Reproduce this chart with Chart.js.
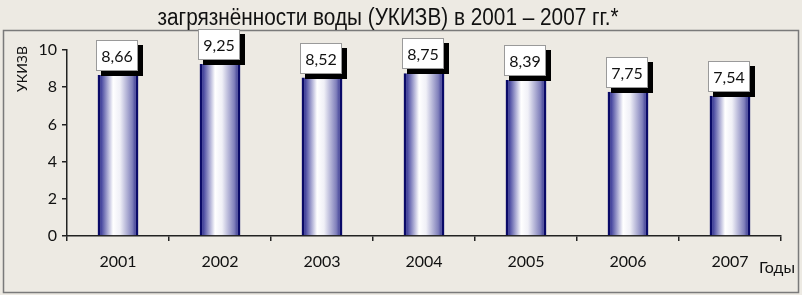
<!DOCTYPE html>
<html>
<head>
<meta charset="utf-8">
<script src="https://cdn.jsdelivr.net/npm/chart.js@4.4.1/dist/chart.umd.min.js"></script>
<style>
  html, body { margin: 0; padding: 0; background: #edeae3; }
  #wrap { width: 802px; height: 295px; position: relative; }
</style>
</head>
<body>
<div id="wrap"><canvas id="chart" width="802" height="295"></canvas></div>
<script>
// data
const years = ['2001', '2002', '2003', '2004', '2005', '2006', '2007'];
const ukizv = [8.66, 9.25, 8.52, 8.75, 8.39, 7.75, 7.54];
const yTicks = [0, 2, 4, 6, 8, 10];

const titleText = 'загрязнённости воды (УКИЗВ) в 2001 – 2007 гг.*';
const yTitle = 'УКИЗВ';
const xTitle = 'Годы';

const lato = 'Lato, "Open Sans", sans-serif';

function barGradient(c) {
  const chart = c.chart;
  const area = chart.chartArea;
  if (!area || c.dataIndex === undefined) return '#8080c0';
  const xs = chart.scales.x;
  const cx = xs.getPixelForValue(c.dataIndex);
  const w = xs.width / years.length * 0.4;
  const g = chart.ctx.createLinearGradient(cx - w / 2, 0, cx + w / 2, 0);
  g.addColorStop(0, '#0e0e74');
  g.addColorStop(0.1, '#4c4ca2');
  g.addColorStop(0.38, '#ffffff');
  g.addColorStop(0.55, '#f0f0f7');
  g.addColorStop(0.85, '#8080bb');
  g.addColorStop(1, '#16167e');
  return g;
}

// frame, title, axis captions and the boxed value labels
const decor = {
  id: 'decor',
  beforeDraw(chart) {
    const ctx = chart.ctx;
    ctx.save();
    ctx.fillStyle = '#edeae3';
    ctx.fillRect(0, 0, chart.width, chart.height);
    ctx.strokeStyle = '#7a7a7a';
    ctx.lineWidth = 1.5;
    ctx.strokeRect(3.5, 30.5, 795, 262);
    // condensed title: squeeze to the reference width
    ctx.fillStyle = '#111';
    ctx.font = '23px "Liberation Sans", Arial, sans-serif';
    ctx.textAlign = 'center';
    ctx.textBaseline = 'alphabetic';
    const tw = ctx.measureText(titleText).width;
    const sx = 461 / tw;
    ctx.translate(388, 25);
    ctx.scale(sx, 1);
    ctx.fillText(titleText, 0, 0);
    ctx.restore();
  },
  afterDatasetsDraw(chart) {
    const ctx = chart.ctx;
    const meta = chart.getDatasetMeta(0);
    ctx.save();
    // y axis caption
    ctx.translate(22, 69);
    ctx.rotate(-Math.PI / 2);
    ctx.font = '14px ' + lato;
    ctx.fillStyle = '#111';
    ctx.textAlign = 'center';
    ctx.textBaseline = 'middle';
    ctx.fillText(yTitle, 0, 0);
    ctx.restore();

    ctx.save();
    ctx.font = '16px ' + lato;
    ctx.fillStyle = '#111';
    ctx.textAlign = 'left';
    ctx.textBaseline = 'middle';
    ctx.fillText(xTitle, 759, 268);
    ctx.restore();

    meta.data.forEach((bar, i) => {
      const bw = 42, bh = 31;
      const x = Math.round(bar.x - bw / 2) - 1;
      const y = Math.round(bar.y) - 4 - bh;
      ctx.save();
      ctx.fillStyle = '#000';
      ctx.fillRect(x + 5, y + 5, bw, bh);
      ctx.fillStyle = '#fff';
      ctx.fillRect(x, y, bw, bh);
      ctx.strokeStyle = '#9a9a9a';
      ctx.lineWidth = 1;
      ctx.strokeRect(x + 0.5, y + 0.5, bw - 1, bh - 1);
      ctx.fillStyle = '#111';
      ctx.font = '16px ' + lato;
      ctx.textAlign = 'center';
      ctx.textBaseline = 'middle';
      ctx.fillText(ukizv[i].toFixed(2).replace('.', ','), x + bw / 2, y + bh / 2 + 1);
      ctx.restore();
    });
  }
};

new Chart(document.getElementById('chart'), {
  type: 'bar',
  data: {
    labels: years,
    datasets: [{
      data: ukizv,
      backgroundColor: barGradient,
      borderColor: '#0a0a68',
      borderWidth: { left: 2.5, right: 2.5, top: 0, bottom: 0 },
      categoryPercentage: 1,
      barPercentage: 0.4
    }]
  },
  options: {
    responsive: false,
    animation: false,
    layout: { padding: { top: 50, right: 21, bottom: 0, left: 0 } },
    plugins: {
      legend: { display: false },
      title: { display: false },
      tooltip: { enabled: false }
    },
    scales: {
      x: {
        afterFit: s => { s.height = 59; },
        grid: { offset: true, drawOnChartArea: false, tickLength: 5, color: '#222', lineWidth: 1.5 },
        border: { color: '#222', width: 1.5 },
        ticks: { color: '#111', font: { family: lato, size: 16 }, padding: 11, maxRotation: 0 }
      },
      y: {
        min: 0,
        max: 10,
        afterFit: s => { s.width = 67; },
        afterBuildTicks: s => { s.ticks = yTicks.map(v => ({ value: v })); },
        grid: { drawOnChartArea: false, tickLength: 5, color: '#222', lineWidth: 1.5 },
        border: { color: '#222', width: 1.5 },
        ticks: { color: '#111', font: { family: lato, size: 16 }, padding: 5 }
      }
    }
  },
  plugins: [decor]
});
</script>
</body>
</html>
